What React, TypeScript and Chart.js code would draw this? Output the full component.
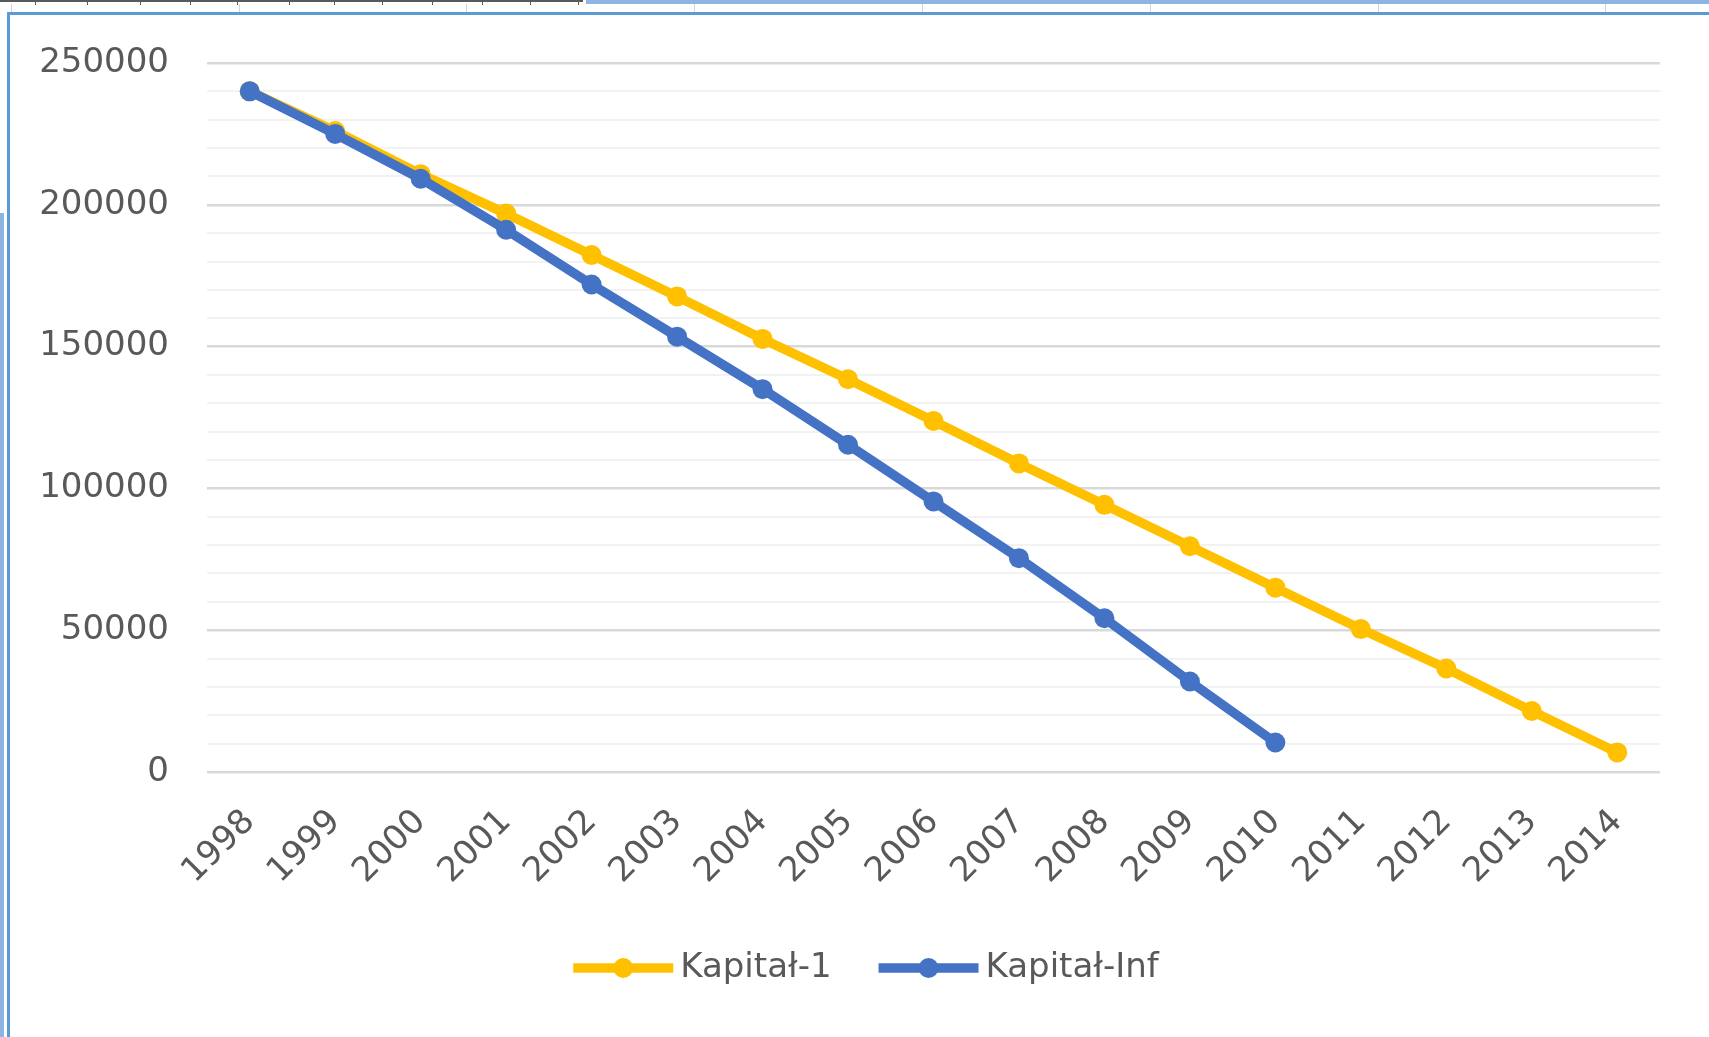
import React, { useEffect, useRef } from "react";
import { Chart, registerables } from "chart.js";

Chart.register(...registerables);

// ---- data ----
const years = [
  "1998", "1999", "2000", "2001", "2002", "2003", "2004", "2005", "2006",
  "2007", "2008", "2009", "2010", "2011", "2012", "2013", "2014",
];
const kapital1 = [
  240000, 226000, 210800, 196900, 182300, 167700, 152700, 138500, 123800,
  108800, 94200, 79600, 65000, 50400, 36500, 21500, 6900,
];
const kapitalInf = [
  240000, 225000, 209200, 191200, 171900, 153500, 135000, 115400, 95400,
  75400, 54200, 31900, 10400,
];
const seriesNames = ["Kapitał-1", "Kapitał-Inf"];
const seriesColors = ["#FFC000", "#4472C4"];
const yMin = 0;
const yMax = 250000;
const yMinorStep = 10000;
const yMajorStep = 50000;

const W = 1709;
const H = 1037;
const FONT = "'DejaVu Sans', sans-serif";
const TEXT = "#595959";
const LINE_W = 9.5;
const POINT_R = 10;

const legendPlugin = {
  id: "lineLegend",
  afterDraw(chart: any) {
    const ctx = chart.ctx as CanvasRenderingContext2D;
    ctx.save();
    ctx.font = `34px ${FONT}`;
    const lineW = 100;
    const gap = 7;
    const itemGap = 47;
    const ds = chart.data.datasets;
    const widths = ds.map((d: any) => lineW + gap + ctx.measureText(d.label).width);
    const total = widths.reduce((a: number, b: number) => a + b, 0) + itemGap * (ds.length - 1);
    let x = 866 - total / 2;
    const y = 968;
    ds.forEach((d: any, i: number) => {
      ctx.strokeStyle = d.borderColor;
      ctx.lineWidth = LINE_W;
      ctx.lineCap = "butt";
      ctx.beginPath();
      ctx.moveTo(x, y);
      ctx.lineTo(x + lineW, y);
      ctx.stroke();
      ctx.fillStyle = d.borderColor;
      ctx.beginPath();
      ctx.arc(x + lineW / 2, y, POINT_R, 0, Math.PI * 2);
      ctx.fill();
      ctx.fillStyle = TEXT;
      ctx.textAlign = "left";
      ctx.textBaseline = "middle";
      ctx.fillText(d.label, x + lineW + gap, y);
      x += widths[i] + itemGap;
    });
    ctx.restore();
  },
};

export default function App() {
  const ref = useRef<HTMLCanvasElement | null>(null);

  useEffect(() => {
    document.body.style.margin = "0";
    if (!ref.current) return;
    const mk = (i: number, data: number[], order: number) => ({
      label: seriesNames[i],
      data,
      borderColor: seriesColors[i],
      backgroundColor: seriesColors[i],
      pointBackgroundColor: seriesColors[i],
      pointBorderWidth: 0,
      pointRadius: POINT_R,
      pointHoverRadius: POINT_R,
      borderWidth: LINE_W,
      tension: 0,
      fill: false,
      order,
    });
    const chart = new Chart(ref.current, {
      type: "line",
      data: {
        labels: years,
        datasets: [mk(0, kapital1, 2), mk(1, kapitalInf, 1)],
      },
      plugins: [legendPlugin],
      options: {
        animation: false,
        responsive: false,
        maintainAspectRatio: false,
        layout: { padding: { top: 63, right: 49, left: 0, bottom: 0 } },
        plugins: {
          legend: { display: false },
          tooltip: { enabled: false },
          title: { display: false },
        },
        scales: {
          x: {
            offset: true,
            grid: { display: false, drawTicks: false },
            border: { display: false },
            ticks: {
              autoSkip: false,
              minRotation: 45,
              maxRotation: 45,
              padding: 30,
              color: TEXT,
              font: { family: FONT, size: 34 },
            },
            afterFit(scale: any) {
              scale.height = 265;
            },
          },
          y: {
            min: yMin,
            max: yMax,
            border: { display: false },
            grid: {
              drawTicks: false,
              color: (c: any) => (c.tick && c.tick.value % yMajorStep === 0 ? "#d9d9d9" : "#f2f2f2"),
              lineWidth: (c: any) => (c.tick && c.tick.value % yMajorStep === 0 ? 2.5 : 2),
            },
            ticks: {
              stepSize: yMinorStep,
              autoSkip: false,
              padding: 38,
              color: TEXT,
              font: { family: FONT, size: 34 },
              callback: (v: any) => (Number(v) % yMajorStep === 0 ? String(v) : ""),
            },
            afterFit(scale: any) {
              scale.width = 207;
            },
          },
        },
      },
    });
    return () => chart.destroy();
  }, []);

  const colLines = [11, 239, 466, 694, 922, 1150, 1378, 1605];
  const rulerTicks = [35, 87, 140, 190, 237, 289, 334, 382, 432, 482, 530, 578];

  return (
    <div style={{ position: "fixed", left: 0, top: 0, width: W, height: H, background: "#fff", overflow: "hidden" }}>
      <canvas ref={ref} width={W} height={H} style={{ position: "absolute", left: 0, top: 0, width: W, height: H }} />
      <div style={{ position: "absolute", left: 0, top: 0, width: 583, height: 2, background: "#595959" }} />
      {rulerTicks.map((x) => (
        <div key={"t" + x} style={{ position: "absolute", left: x, top: 0, width: 1, height: 5, background: "#595959" }} />
      ))}
      <div style={{ position: "absolute", left: 586, top: 0, width: W - 586, height: 4, background: "#8DB4E2" }} />
      {colLines.map((x) => (
        <div key={"c" + x} style={{ position: "absolute", left: x, top: 4, width: 1, height: 9, background: "#d4d4d4" }} />
      ))}
      <div style={{ position: "absolute", left: 7, top: 12, width: W - 7, height: 3, background: "#5B9BD5" }} />
      <div style={{ position: "absolute", left: 7, top: 12, width: 3, height: H - 12, background: "#5B9BD5" }} />
      <div style={{ position: "absolute", left: 0, top: 213, width: 4, height: H - 213, background: "#8DB4E2" }} />
    </div>
  );
}
